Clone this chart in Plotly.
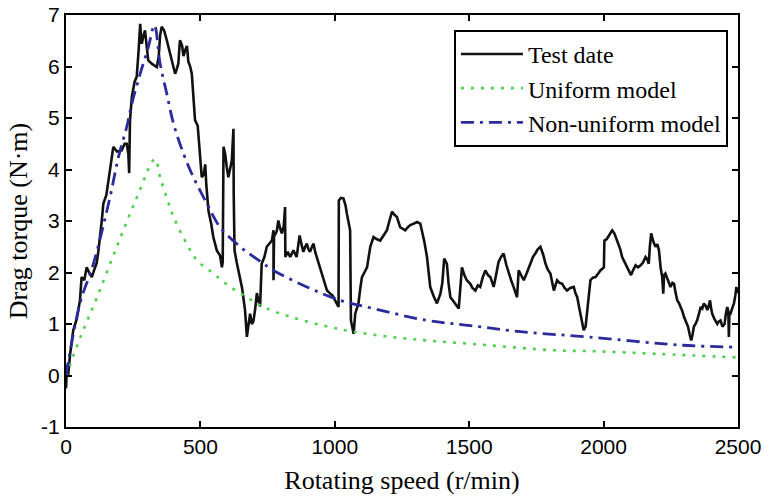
import plotly.graph_objects as go

# ---- data ----
test_x = [0, 4, 8, 15, 27, 40, 52, 58, 68, 77, 86, 96, 105, 114, 120, 127, 133, 139, 150, 157, 164, 170, 176, 190, 207, 218, 226, 232, 235, 238, 245, 255, 263, 270, 276, 280, 282, 288, 294, 300, 306, 320, 338, 345, 350, 356, 365, 375, 390, 406, 412, 418, 421, 424, 432, 437, 443, 450, 455, 462, 468, 474, 480, 490, 497, 505, 512, 518, 522, 530, 540, 548, 561, 573, 580, 583, 586, 592, 598, 604, 610, 617, 620, 623, 624, 627, 635, 648, 655, 666, 670, 673, 678, 685, 691, 697, 704, 710, 716, 722, 728, 738, 747, 756, 766, 772, 772, 774, 784, 790, 797, 803, 810, 815, 816, 825, 834, 846, 858, 864, 869, 876, 883, 890, 896, 902, 908, 915, 921, 927, 933, 943, 952, 962, 971, 983, 992, 1001, 1008, 1014, 1015, 1023, 1032, 1040, 1045, 1050, 1057, 1060, 1065, 1070, 1076, 1082, 1088, 1095, 1101, 1110, 1120, 1126, 1132, 1144, 1155, 1169, 1180, 1194, 1203, 1213, 1222, 1231, 1243, 1252, 1262, 1272, 1281, 1294, 1306, 1318, 1324, 1333, 1343, 1350, 1355, 1367, 1380, 1393, 1400, 1407, 1417, 1423, 1430, 1440, 1448, 1455, 1461, 1467, 1473, 1482, 1491, 1504, 1512, 1523, 1532, 1541, 1550, 1560, 1570, 1579, 1585, 1591, 1600, 1609, 1618, 1628, 1638, 1647, 1656, 1665, 1672, 1678, 1684, 1693, 1703, 1715, 1727, 1737, 1746, 1755, 1765, 1775, 1784, 1793, 1802, 1810, 1815, 1821, 1827, 1836, 1846, 1855, 1864, 1876, 1889, 1895, 1902, 1908, 1914, 1920, 1926, 1933, 1939, 1945, 1951, 1960, 1970, 1980, 1988, 2001, 2003, 2012, 2020, 2026, 2032, 2040, 2048, 2056, 2062, 2069, 2078, 2088, 2095, 2102, 2110, 2119, 2128, 2138, 2147, 2156, 2163, 2168, 2172, 2177, 2185, 2193, 2200, 2206, 2212, 2218, 2222, 2225, 2230, 2240, 2249, 2256, 2262, 2268, 2274, 2281, 2287, 2293, 2299, 2306, 2314, 2320, 2326, 2331, 2336, 2342, 2348, 2355, 2361, 2367, 2373, 2380, 2386, 2391, 2396, 2400, 2404, 2412, 2423, 2429, 2435, 2442, 2450, 2455, 2460, 2464, 2466, 2468, 2472, 2478, 2485, 2490, 2494, 2498, 2500]
test_y = [-0.25, 0.2, 0.0, 0.4, 0.88, 1.1, 1.46, 1.91, 1.85, 2.1, 2.0, 1.91, 2.05, 2.18, 2.4, 2.69, 3.0, 3.34, 3.5, 3.75, 3.98, 4.2, 4.44, 4.35, 4.37, 4.5, 4.5, 4.3, 3.93, 4.95, 5.41, 5.7, 5.8, 6.3, 6.83, 6.5, 6.44, 6.6, 6.7, 6.4, 6.12, 6.05, 5.99, 6.2, 6.6, 6.77, 6.7, 6.51, 6.2, 5.86, 5.95, 6.06, 6.3, 6.51, 6.4, 6.2, 6.31, 6.4, 6.1, 6.0, 5.86, 5.4, 4.96, 4.85, 4.3, 3.85, 3.9, 4.1, 3.7, 3.2, 2.95, 2.69, 2.43, 2.33, 2.1, 2.2, 4.44, 4.3, 4.05, 3.85, 4.0, 4.18, 4.5, 4.79, 3.5, 2.43, 2.2, 1.91, 1.7, 1.27, 1.0, 0.75, 0.95, 1.2, 1.0, 1.05, 1.3, 1.6, 1.45, 1.34, 2.17, 2.3, 2.5, 2.55, 2.62, 2.82, 1.85, 2.7, 2.8, 3.01, 2.85, 2.76, 2.9, 3.27, 2.3, 2.4, 2.3, 2.43, 2.3, 2.5, 2.72, 2.55, 2.4, 2.5, 2.56, 2.45, 2.4, 2.5, 2.56, 2.4, 2.3, 2.15, 1.98, 1.8, 1.65, 1.59, 1.55, 1.46, 1.4, 1.33, 3.4, 3.45, 3.44, 3.3, 3.14, 3.0, 2.82, 1.07, 0.95, 0.81, 1.2, 1.3, 1.4, 1.7, 1.91, 2.0, 2.1, 2.3, 2.5, 2.69, 2.65, 2.62, 2.7, 2.82, 3.0, 3.18, 3.12, 3.08, 2.88, 2.85, 2.82, 2.88, 2.92, 2.95, 2.98, 2.95, 2.82, 2.6, 2.3, 1.95, 1.72, 1.55, 1.4, 1.59, 1.8, 2.27, 2.17, 1.8, 1.52, 1.45, 1.4, 1.35, 1.3, 1.7, 2.1, 1.95, 1.85, 1.78, 1.7, 1.65, 1.75, 1.72, 1.9, 2.04, 1.95, 1.91, 1.8, 1.72, 1.95, 2.2, 2.3, 2.37, 2.15, 1.98, 1.85, 1.72, 1.6, 1.52, 2.04, 1.95, 1.85, 2.0, 2.17, 2.3, 2.37, 2.45, 2.5, 2.35, 2.17, 2.05, 1.98, 1.8, 1.65, 1.75, 1.85, 1.8, 1.78, 1.7, 1.65, 1.7, 1.72, 1.6, 1.52, 1.35, 1.2, 1.0, 0.88, 0.95, 1.3, 1.65, 1.85, 1.9, 1.91, 1.98, 2.04, 2.1, 2.62, 2.65, 2.72, 2.78, 2.82, 2.76, 2.65, 2.56, 2.45, 2.3, 2.2, 2.1, 2.0, 1.95, 2.05, 2.14, 2.1, 2.14, 2.2, 2.3, 2.25, 2.17, 2.5, 2.76, 2.6, 2.5, 2.55, 2.43, 2.1, 1.91, 1.59, 1.95, 1.98, 1.85, 1.72, 1.8, 1.78, 1.6, 1.46, 1.4, 1.33, 1.25, 1.14, 1.05, 0.95, 0.8, 0.68, 0.8, 0.95, 1.0, 1.07, 1.2, 1.33, 1.3, 1.4, 1.35, 1.27, 1.35, 1.46, 1.3, 1.2, 1.1, 1.0, 1.05, 1.07, 0.95, 1.0, 1.2, 1.33, 1.25, 0.75, 1.2, 1.2, 1.3, 1.4, 1.55, 1.72, 1.6, 1.7]

uniform_x = [0, 52, 114, 189, 263, 331, 350, 375, 400, 449, 487, 548, 611, 673, 735, 834, 958, 1070, 1206, 1343, 1566, 1814, 1976, 2200, 2500]
uniform_y = [0, 0.72, 1.5, 2.5, 3.45, 4.2, 3.85, 3.45, 3.08, 2.56, 2.24, 1.98, 1.72, 1.52, 1.33, 1.14, 0.97, 0.85, 0.75, 0.68, 0.59, 0.49, 0.47, 0.42, 0.35]

nonuni_x = [0, 52, 102, 164, 195, 226, 245, 276, 306, 329, 350, 375, 400, 437, 474, 524, 573, 648, 716, 772, 896, 1020, 1144, 1343, 1504, 1690, 1939, 2286, 2500]
nonuni_y = [0, 1.4, 2.17, 3.47, 4.24, 4.83, 5.28, 5.86, 6.37, 6.8, 6.06, 5.47, 4.89, 4.31, 3.85, 3.34, 2.88, 2.5, 2.24, 2.04, 1.72, 1.46, 1.3, 1.07, 0.97, 0.85, 0.75, 0.59, 0.55]

x_ticks = [0, 500, 1000, 1500, 2000, 2500]
y_ticks = [-1, 0, 1, 2, 3, 4, 5, 6, 7]

fig = go.Figure()
fig.add_trace(go.Scatter(x=test_x, y=test_y, mode="lines", name="Test date",
                         line=dict(color="#111111", width=2.6)))
fig.add_trace(go.Scatter(x=uniform_x, y=uniform_y, mode="lines", name="Uniform model",
                         line=dict(color="#4fd14f", width=2.6, dash="3px,7px", shape="spline")))
fig.add_trace(go.Scatter(x=nonuni_x, y=nonuni_y, mode="lines", name="Non-uniform model",
                         line=dict(color="#2b2b9c", width=2.8, dash="13px,6px,3px,6px", shape="spline")))

axis_common = dict(showline=True, linecolor="black", linewidth=2.2, mirror="ticks",
                   ticks="inside", ticklen=6, tickwidth=1.8, tickcolor="black",
                   showgrid=False, zeroline=False, automargin=False,
                   tickfont=dict(family="Liberation Sans, Arial", size=21, color="black"))

fig.update_layout(
    width=764, height=498,
    margin=dict(l=66, r=26, t=15, b=71),
    paper_bgcolor="white", plot_bgcolor="white",
    xaxis=dict(range=[0, 2500], tickvals=x_ticks, ticktext=[str(v) for v in x_ticks],
               title=dict(text="Rotating speed (r/min)", standoff=14,
                          font=dict(family="Liberation Serif, Times New Roman", size=26, color="black")),
               **axis_common),
    yaxis=dict(range=[-1, 7], tickvals=y_ticks, ticktext=[str(v) for v in y_ticks],
               title=dict(text="Drag torque (N·m)", standoff=6,
                          font=dict(family="Liberation Serif, Times New Roman", size=26, color="black")),
               **axis_common),
    legend=dict(x=0.985, y=0.964, xanchor="right", yanchor="top",
                bgcolor="white", bordercolor="black", borderwidth=2,
                font=dict(family="Liberation Serif, Times New Roman", size=24, color="black"),
                tracegroupgap=0, itemwidth=62),
    showlegend=True,
)

fig.write_html("out.html")
